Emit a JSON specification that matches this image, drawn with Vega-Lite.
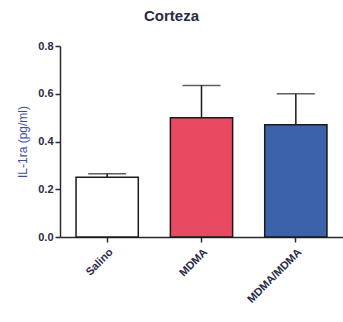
{
  "$schema": "https://vega.github.io/schema/vega-lite/v6.json",
  "autosize": {"type": "none"},
  "padding": {"left": 60, "top": 46, "right": 0, "bottom": 85},
  "width": 283,
  "height": 191,
  "title": {"text": "Corteza", "fontSize": 15, "font": "Liberation Sans", "fontWeight": "bold", "color": "#2a2a45", "anchor": "middle", "offset": 16, "frame": "group", "dx": -30},
  "config": {
    "view": {"stroke": null},
    "axis": {"grid": false, "domainColor": "#2a2a35", "domainWidth": 1.5, "tickColor": "#2a2a35", "tickWidth": 1.5, "tickSize": 5, "labelFont": "Liberation Sans", "labelFontWeight": "bold", "labelColor": "#2a2a45", "labelFontSize": 11}
  },
  "data": {"values": [
    {"grupo": "Salino", "valor": 0.25, "sup": 0.265},
    {"grupo": "MDMA", "valor": 0.50, "sup": 0.635},
    {"grupo": "MDMA/MDMA", "valor": 0.47, "sup": 0.60}
  ]},
  "encoding": {
    "x": {"field": "grupo", "type": "nominal", "sort": null,
      "scale": {"paddingInner": 0.34, "paddingOuter": 0.17},
      "axis": {"title": null, "labelAngle": -45, "labelPadding": 4, "domainWidth": 1.5}}
  },
  "layer": [
    {
      "mark": {"type": "rule", "strokeWidth": 1.5, "color": "#1a1a1a"},
      "encoding": {
        "y": {"field": "valor", "type": "quantitative"},
        "y2": {"field": "sup"}
      }
    },
    {
      "mark": {"type": "tick", "size": 38, "thickness": 1.5, "color": "#1a1a1a", "orient": "horizontal"},
      "encoding": {"y": {"field": "sup", "type": "quantitative"}}
    },
    {
      "mark": {"type": "bar", "stroke": "#1a1a1a", "strokeWidth": 1.5},
      "encoding": {
        "y": {"field": "valor", "type": "quantitative",
          "scale": {"domain": [0, 0.8], "nice": false},
          "axis": {"values": [0, 0.2, 0.4, 0.6, 0.8], "format": ".1f", "title": "IL-1ra (pg/ml)", "titleColor": "#3d4e9c", "titleFont": "Liberation Sans", "titleFontWeight": "normal", "titleFontSize": 12, "titlePadding": 8}},
        "fill": {"field": "grupo", "type": "nominal", "legend": null,
          "scale": {"domain": ["Salino", "MDMA", "MDMA/MDMA"], "range": ["#ffffff", "#e84a62", "#3c63a9"]}}
      }
    }
  ]
}
